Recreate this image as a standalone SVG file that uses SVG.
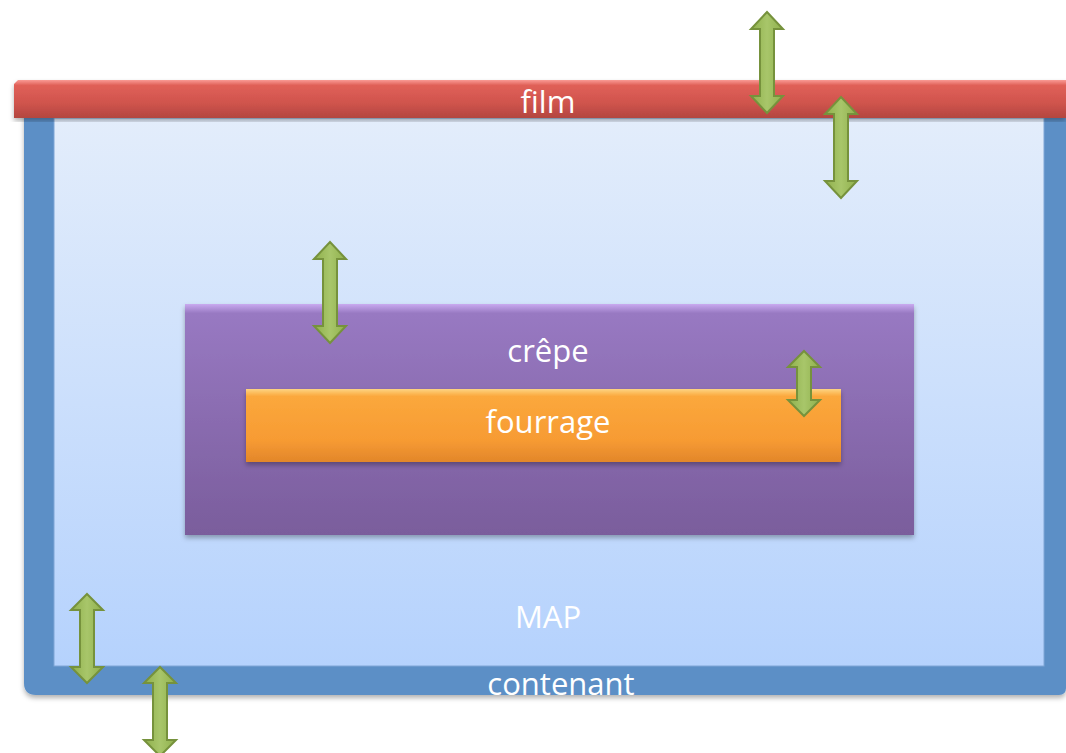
<svg xmlns="http://www.w3.org/2000/svg" width="1066" height="753" viewBox="0 0 1066 753">
  <defs>
    <linearGradient id="gFilm" x1="0" y1="0" x2="0" y2="1">
      <stop offset="0" stop-color="#fa9b95"/>
      <stop offset="0.14" stop-color="#e06058"/>
      <stop offset="0.6" stop-color="#d0544d"/>
      <stop offset="1" stop-color="#b3463f"/>
    </linearGradient>
    <linearGradient id="gMap" x1="0" y1="0" x2="0" y2="1">
      <stop offset="0" stop-color="#e3edfb"/>
      <stop offset="1" stop-color="#b5d2fd"/>
    </linearGradient>
    <linearGradient id="gCrepe" x1="0" y1="0" x2="0" y2="1">
      <stop offset="0" stop-color="#c9aaf0"/>
      <stop offset="0.04" stop-color="#9879c2"/>
      <stop offset="1" stop-color="#7a5d9c"/>
    </linearGradient>
    <linearGradient id="gFourrage" x1="0" y1="0" x2="0" y2="1">
      <stop offset="0" stop-color="#fdd483"/>
      <stop offset="0.1" stop-color="#fba83c"/>
      <stop offset="0.7" stop-color="#f79b33"/>
      <stop offset="1" stop-color="#e2862a"/>
    </linearGradient>
    <linearGradient id="gArrow" x1="0" y1="0" x2="1" y2="0">
      <stop offset="0" stop-color="#8fb04c"/>
      <stop offset="0.5" stop-color="#a8c66a"/>
      <stop offset="1" stop-color="#8fb04c"/>
    </linearGradient>
    <filter id="shadow" x="-5%" y="-5%" width="110%" height="115%">
      <feDropShadow dx="0" dy="3" stdDeviation="2.5" flood-color="#000" flood-opacity="0.3"/>
    </filter>
  </defs>
  <style>
    .lbl { font-family: "Open Sans", "Liberation Sans", sans-serif; font-size: 31px; fill: #ffffff; text-anchor: middle; }
    .arrow { fill: url(#gArrow); stroke: #76923c; stroke-width: 2; stroke-linejoin: miter; }
  </style>

  <rect width="1066" height="753" fill="#ffffff"/>

  <!-- container with MAP atmosphere inside -->
  <g id="contenant">
    <path d="M24,110 H1066 V688 Q1066,695 1059,695 H36 Q24,695 24,683 Z" fill="#5b8fc6" filter="url(#shadow)"/>
    <rect x="54" y="118" width="990" height="548" fill="url(#gMap)" stroke="#7fa6d6" stroke-width="1"/>
    <text class="lbl" x="561" y="695">contenant</text>
  </g>
  <g id="map">
    <text class="lbl" x="548" y="628">MAP</text>
  </g>

  <!-- sealing film across the top -->
  <g id="film">
    <path d="M18,80 H1066 V118 H14 V84 Z" fill="url(#gFilm)" filter="url(#shadow)"/>
    <text class="lbl" x="548" y="113">film</text>
  </g>

  <g id="crepe">
    <rect x="185" y="304" width="729" height="231" fill="url(#gCrepe)" filter="url(#shadow)"/>
    <text class="lbl" x="548" y="362">crêpe</text>
  </g>

  <g id="fourrage">
    <rect x="246" y="389" width="595" height="73" fill="url(#gFourrage)" filter="url(#shadow)"/>
    <text class="lbl" x="548" y="433">fourrage</text>
  </g>

  <!-- exchange arrows -->
  <g id="connectors">
    <path class="arrow" d="M767,12 L783,29 L774,29 L774,96 L783,96 L767,113 L751,96 L760,96 L760,29 L751,29 Z"/>
    <path class="arrow" d="M841,97 L857,114 L848,114 L848,181 L857,181 L841,198 L825,181 L834,181 L834,114 L825,114 Z"/>
    <path class="arrow" d="M330,242 L346,259 L337,259 L337,326 L346,326 L330,343 L314,326 L323,326 L323,259 L314,259 Z"/>
    <path class="arrow" d="M804,351 L820,367 L811,367 L811,400 L820,400 L804,416 L788,400 L797,400 L797,367 L788,367 Z"/>
    <path class="arrow" d="M87,594 L103,610 L94,610 L94,667 L103,667 L87,683 L71,667 L80,667 L80,610 L71,610 Z"/>
    <path class="arrow" d="M160,667 L176,683 L167,683 L167,740 L176,740 L160,756 L144,740 L153,740 L153,683 L144,683 Z"/>
  </g>
</svg>
